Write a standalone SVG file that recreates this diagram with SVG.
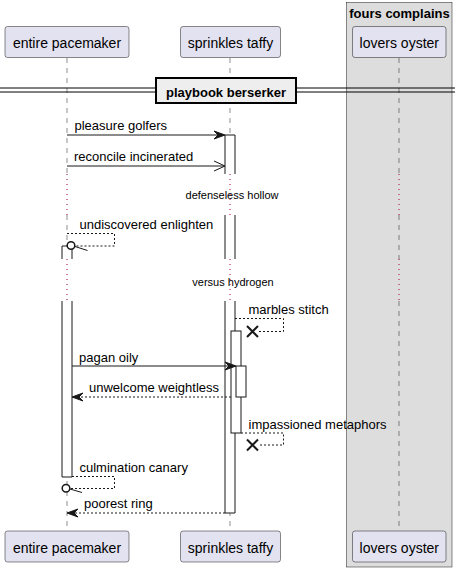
<svg xmlns="http://www.w3.org/2000/svg" width="459" height="572" viewBox="0 0 459 572">
<style>
.part{fill:#E2E2F0;stroke:#181818;stroke-width:0.5}
.ptxt{font-family:"Liberation Sans",Arial,sans-serif;font-size:14px;fill:#000;text-anchor:middle}
.mtxt{font-family:"Liberation Sans",Arial,sans-serif;font-size:13px;fill:#000}
.dtxt{font-family:"Liberation Sans",Arial,sans-serif;font-size:11px;fill:#000;text-anchor:middle}
.life{stroke:#181818;stroke-width:0.5;stroke-dasharray:5,5;fill:none}
.dot{stroke:#A80036;stroke-width:1;stroke-dasharray:1,4;fill:none}
.msg{stroke:#181818;stroke-width:1;fill:none}
.dash{stroke:#181818;stroke-width:1;stroke-dasharray:2,2;fill:none}
.head{fill:#181818;stroke:#181818;stroke-width:1}
.act{fill:#FFFFFF;stroke:#181818;stroke-width:1}
.actfill{fill:#FFFFFF;stroke:none}
.edge{stroke:#181818;stroke-width:1;fill:none}
.xm{stroke:#181818;stroke-width:2;fill:none}
.circ{fill:#FFFFFF;stroke:#181818;stroke-width:1.5}
</style>
<rect width="459" height="572" fill="#FFFFFF"/>
<g id="box-fours-complains">
<rect x="346.5" y="2.5" width="105.5" height="564.5" fill="#DDDDDD" stroke="#181818" stroke-width="0.5"/>
<text x="399.5" y="18" font-family="Liberation Sans,Arial,sans-serif" font-size="13" font-weight="bold" text-anchor="middle">fours complains</text>
</g>
<g id="lifelines">
<line class="life" x1="67" y1="58" x2="67" y2="174"/>
<line class="life" x1="67" y1="215" x2="67" y2="259"/>
<line class="life" x1="67" y1="301" x2="67" y2="531"/>
<line class="dot" x1="67" y1="174" x2="67" y2="215"/>
<line class="dot" x1="67" y1="259" x2="67" y2="301"/>
<line class="life" x1="230" y1="58" x2="230" y2="174"/>
<line class="life" x1="230" y1="215" x2="230" y2="259"/>
<line class="life" x1="230" y1="301" x2="230" y2="531"/>
<line class="life" x1="399" y1="58" x2="399" y2="174"/>
<line class="life" x1="399" y1="215" x2="399" y2="259"/>
<line class="life" x1="399" y1="301" x2="399" y2="531"/>
<line class="dot" x1="399" y1="174" x2="399" y2="215"/>
<line class="dot" x1="399" y1="259" x2="399" y2="301"/>
</g>
<g id="participant-entire-pacemaker">
<rect class="part" x="5" y="26.5" width="124" height="31" rx="2.5"/>
<text class="ptxt" x="67" y="47.5">entire pacemaker</text>
<rect class="part" x="5" y="531" width="124" height="31" rx="2.5"/>
<text class="ptxt" x="67" y="552.5">entire pacemaker</text>
</g>
<g id="participant-sprinkles-taffy">
<rect class="part" x="180.5" y="26.5" width="100" height="31" rx="2.5"/>
<text class="ptxt" x="230.5" y="47.5">sprinkles taffy</text>
<rect class="part" x="180.5" y="531" width="100" height="31" rx="2.5"/>
<text class="ptxt" x="230.5" y="552.5">sprinkles taffy</text>
</g>
<g id="participant-lovers-oyster">
<rect class="part" x="352.5" y="26.5" width="93.5" height="31" rx="2.5"/>
<text class="ptxt" x="399.3" y="47.5">lovers oyster</text>
<rect class="part" x="352.5" y="531" width="93.5" height="31" rx="2.5"/>
<text class="ptxt" x="399.3" y="552.5">lovers oyster</text>
</g>
<g id="activations">
<rect class="actfill" x="225" y="135" width="10" height="39"/>
<rect class="actfill" x="225" y="215" width="10" height="44"/>
<rect class="actfill" x="225" y="301" width="10" height="212"/>
<path class="edge" d="M225,174 V135 H235 V174 M225,215 V259 M235,215 V259 M225,301 V513 H235 V301"/>
<line class="dot" x1="230" y1="174" x2="230" y2="215"/>
<line class="dot" x1="230" y1="259" x2="230" y2="301"/>
<rect class="actfill" x="62" y="246" width="10" height="13"/>
<rect class="actfill" x="62" y="301" width="10" height="176"/>
<path class="edge" d="M62,259 V246 H72 V259 M62,301 V477 H72 V301"/>
<rect class="act" x="231" y="331" width="10" height="102"/>
<rect class="act" x="236" y="366" width="10" height="31"/>
</g>
<g id="divider-playbook-berserker">
<line x1="0" y1="88" x2="455" y2="88" stroke="#000" stroke-width="1"/>
<line x1="0" y1="92" x2="455" y2="92" stroke="#000" stroke-width="1"/>
<rect x="156" y="78" width="140" height="25" fill="#EEEEEE" stroke="#000" stroke-width="2"/>
<text x="226" y="96.5" font-family="Liberation Sans,Arial,sans-serif" font-size="13" font-weight="bold" text-anchor="middle">playbook berserker</text>
</g>
<g id="delays">
<text class="dtxt" x="232" y="199">defenseless hollow</text>
<text class="dtxt" x="233" y="285.5">versus hydrogen</text>
</g>
<g id="connectors">
<line class="msg" x1="67" y1="135" x2="223" y2="135"/>
<polygon class="head" points="225,135 214,131 218,135 214,139"/>
<text class="mtxt" x="74.5" y="130">pleasure golfers</text>
<line class="msg" x1="67" y1="166" x2="224" y2="166"/>
<path class="msg" d="M214,161 L225,166 L214,171"/>
<text class="mtxt" x="74" y="161">reconcile incinerated</text>
<path class="dash" d="M67,233.5 H114.5 V246 H75"/>
<circle class="circ" cx="71" cy="245.5" r="3.8"/>
<line class="msg" x1="75" y1="246.5" x2="87.5" y2="250.5"/>
<text class="mtxt" x="79.5" y="228.5">undiscovered enlighten</text>
<path class="dash" d="M235,318.5 H283.5 V331.5 H258"/>
<path class="xm" d="M247,326 L258,337 M258,326 L247,337"/>
<text class="mtxt" x="248.5" y="313.5">marbles stitch</text>
<line class="msg" x1="72" y1="366" x2="234" y2="366"/>
<polygon class="head" points="236,366 225,362 229,366 225,370"/>
<text class="mtxt" x="79" y="361.5">pagan oily</text>
<line class="dash" x1="231" y1="397" x2="74" y2="397"/>
<polygon class="head" points="72,397 83,393 79,397 83,401"/>
<text class="mtxt" x="89" y="392">unwelcome weightless</text>
<path class="dash" d="M241,433 H283.5 V445 H258"/>
<path class="xm" d="M247,439.5 L258,450.5 M258,439.5 L247,450.5"/>
<text class="mtxt" x="248.5" y="428.5">impassioned metaphors</text>
<path class="dash" d="M72,476.5 H114.5 V488.5 H70"/>
<circle class="circ" cx="66" cy="488.3" r="3.8"/>
<line class="msg" x1="70" y1="489" x2="82" y2="492.5"/>
<text class="mtxt" x="79.5" y="471.5">culmination canary</text>
<line class="dash" x1="225" y1="513" x2="69" y2="513"/>
<polygon class="head" points="67,513 78,509 74,513 78,517"/>
<text class="mtxt" x="84" y="508">poorest ring</text>
</g>
</svg>
